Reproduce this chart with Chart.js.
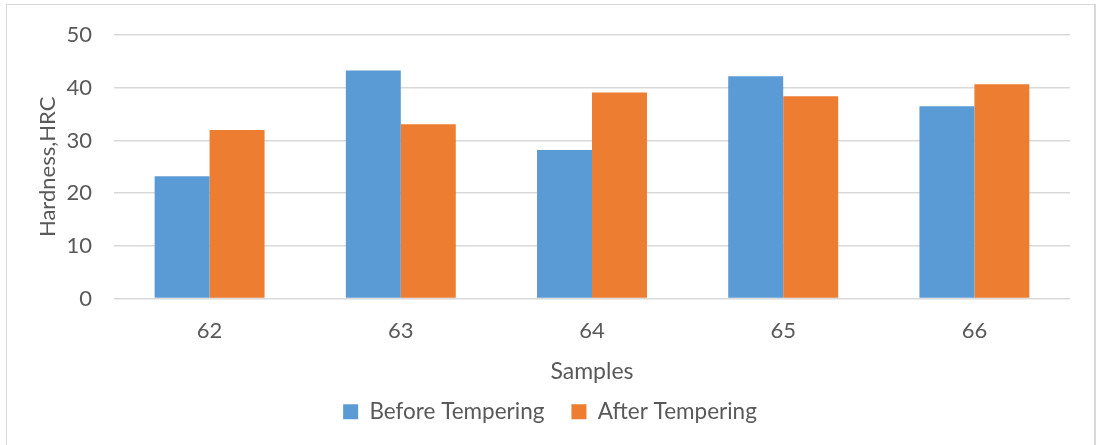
<!DOCTYPE html>
<html>
<head>
<meta charset="utf-8">
<script src="https://cdn.jsdelivr.net/npm/chart.js@4"></script>
<style>
  html, body { margin: 0; padding: 0; background: #fff; overflow: hidden; }
  #frame {
    position: absolute; left: 6px; top: 4px; width: 1090px; height: 460px;
    border: 1px solid #d9d9d9; border-right-width: 2px; box-sizing: border-box;
  }
  #myChart { position: absolute; left: 0; top: 0; }
</style>
</head>
<body>
<div id="frame"></div>
<canvas id="myChart" width="1101" height="445"></canvas>
<script>
const muestras = ["62", "63", "64", "65", "66"];
const antes = [23.2, 43.3, 28.2, 42.2, 36.5];
const despues = [32.0, 33.1, 39.1, 38.4, 40.7];

const ctx = document.getElementById("myChart");
const fuente = "Lato, 'Open Sans', sans-serif";
const gris = "#595959";
const rejilla = "#d9d9d9";

new Chart(ctx, {
    type: "bar",
    data: {
        labels: muestras,
        datasets: [
            { label: "Before Tempering", data: antes, backgroundColor: "#5b9bd5" },
            { label: "After Tempering", data: despues, backgroundColor: "#ed7d31" }
        ]
    },
    options: {
        responsive: false,
        animation: false,
        devicePixelRatio: 1,
        layout: { padding: { left: 30, right: 31, top: 32, bottom: 12 } },
        datasets: {
            bar: { categoryPercentage: 0.575, barPercentage: 1 }
        },
        plugins: {
            tooltip: { enabled: false },
            legend: {
                position: "bottom",
                labels: {
                    boxWidth: 15,
                    boxHeight: 15,
                    padding: 27,
                    color: gris,
                    font: { family: fuente, size: 22.5 }
                }
            }
        },
        scales: {
            x: {
                grid: { display: false },
                border: { display: false },
                ticks: { color: gris, font: { family: fuente, size: 22 }, padding: 11 },
                title: {
                    display: true, text: "Samples", color: gris,
                    font: { family: fuente, size: 23 }, padding: { top: 3, bottom: -12 }
                }
            },
            y: {
                min: 0,
                max: 50,
                ticks: { stepSize: 10, color: gris, font: { family: fuente, size: 22 }, padding: 22 },
                grid: { color: rejilla, lineWidth: 1.5, drawTicks: false },
                border: { display: false },
                title: {
                    display: true, text: "Hardness,HRC", color: gris,
                    font: { family: fuente, size: 22 }, padding: { top: 5, bottom: 0 }
                },
                afterFit(scale) { scale.width = 84; }
            }
        }
    }
});
</script>
</body>
</html>
